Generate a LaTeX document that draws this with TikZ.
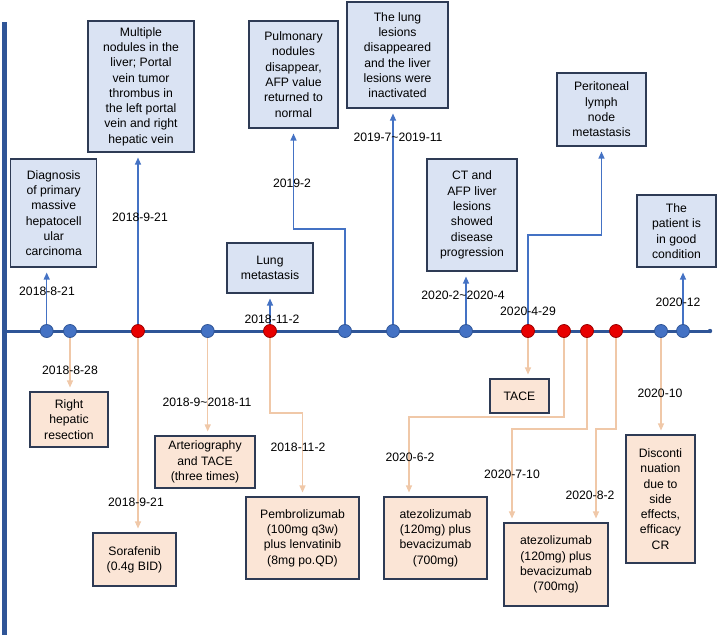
\documentclass[tikz,border=0pt]{standalone}
\usepackage{fontspec}
\setmainfont{Liberation Sans}
\usetikzlibrary{arrows.meta,calc}
\definecolor{topfill}{HTML}{DAE3F3}
\definecolor{botfill}{HTML}{FBE5D6}
\definecolor{boxline}{HTML}{2E3B55}
\definecolor{upline}{HTML}{4472C4}
\definecolor{downline}{HTML}{F0C8A8}
\definecolor{axis}{HTML}{2F5597}
\definecolor{dotblue}{HTML}{4472C4}
\definecolor{dotred}{HTML}{E80000}
\tikzset{
  base/.style={draw=boxline, line width=1.1pt, align=center, inner sep=1pt,
    font=\fontsize{12.2}{15.3}\selectfont},
  topbox/.style={base, fill=topfill},
  botbox/.style={base, fill=botfill},
  upconn/.style={draw=upline, line width=1.2pt, -{Triangle[length=7pt,width=6pt]}, shorten >=5pt},
  downconn/.style={draw=downline, line width=1.1pt, -{Triangle[length=7pt,width=6pt]}, shorten >=4pt},
  date/.style={font=\fontsize{12.2}{14}\selectfont, inner sep=0pt},
  bdot/.style={circle, fill=dotblue, draw=axis, line width=0.8pt, minimum size=13pt, inner sep=0pt},
  rdot/.style={circle, fill=dotred, draw=red!60!black, line width=0.8pt, minimum size=13pt, inner sep=0pt},
}
\begin{document}
\begin{tikzpicture}[x=1pt,y=-1pt]
\useasboundingbox (0,0) rectangle (717,635);
\fill[white] (0,0) rectangle (717,635);
% left bar and axis
\fill[axis] (2,22) rectangle (7,635);
\coordinate (axL) at (7,331);
\coordinate (axR) at (710,331);
\draw[axis, line width=3pt] (axL) -- (axR);
\fill[axis] (axR) circle (2.2pt);

% top boxes
\node[topbox, minimum width=86pt, minimum height=108pt] (t1) at (53.7,213) {Diagnosis\\of primary\\massive\\hepatocell\\ular\\carcinoma};
\node[topbox, minimum width=106pt, minimum height=131pt] (t2) at (141,86.5) {Multiple\\nodules in the\\liver; Portal\\vein tumor\\thrombus in\\the left portal\\vein and right\\hepatic vein};
\node[topbox, minimum width=86pt, minimum height=50pt] (t3) at (270,268) {Lung\\metastasis};
\node[topbox, minimum width=89pt, minimum height=107pt] (t4) at (293.5,74.5) {Pulmonary\\nodules\\disappear,\\AFP value\\returned to\\normal};
\node[topbox, minimum width=101pt, minimum height=106pt] (t5) at (397.5,55) {The lung\\lesions\\disappeared\\and the liver\\lesions were\\inactivated};
\node[topbox, minimum width=90pt, minimum height=112pt] (t6) at (472,215) {CT and\\AFP liver\\lesions\\showed\\disease\\progression};
\node[topbox, minimum width=89pt, minimum height=73pt] (t7) at (601.5,109.5) {Peritoneal\\lymph\\node\\metastasis};
\node[topbox, minimum width=79pt, minimum height=72pt] (t8) at (676.5,231) {The\\patient is\\in good\\condition};

% bottom boxes
\node[botbox, minimum width=78pt, minimum height=55pt] (b1) at (69,419.5) {Right\\hepatic\\resection};
\node[botbox, minimum width=83pt, minimum height=53pt] (b2) at (134.5,559.5) {Sorafenib\\(0.4g BID)};
\node[botbox, minimum width=100pt, minimum height=52pt] (b3) at (205,462) {Arteriography\\and TACE\\(three times)};
\node[botbox, minimum width=113pt, minimum height=82pt] (b4) at (302.5,538) {Pembrolizumab\\(100mg q3w)\\plus lenvatinib\\(8mg po.QD)};
\node[botbox, minimum width=59pt, minimum height=34pt] (b5) at (519.5,396) {TACE};
\node[botbox, minimum width=103pt, minimum height=82pt] (b6) at (435.5,538) {atezolizumab\\(120mg) plus\\bevacizumab\\(700mg)};
\node[botbox, minimum width=104pt, minimum height=83pt] (b7) at (556,564.5) {atezolizumab\\(120mg) plus\\bevacizumab\\(700mg)};
\node[botbox, minimum width=69pt, minimum height=128pt] (b8) at (660.5,499) {Disconti\\nuation\\due to\\side\\effects,\\efficacy\\CR};

% dot positions
\coordinate (p1) at (46.7,331);
\coordinate (p2) at (70,331);
\coordinate (p3) at (138,331);
\coordinate (p4) at (207.7,331);
\coordinate (p5) at (270,331);
\coordinate (p6) at (345,331);
\coordinate (p7) at (393,331);
\coordinate (p8) at (466,331);
\coordinate (p9) at (528,331);
\coordinate (p10) at (564,331);
\coordinate (p11) at (587,331);
\coordinate (p12) at (616,331);
\coordinate (p13) at (661,331);
\coordinate (p14) at (683,331);

% bend points
\coordinate (k4) at (345,229);
\coordinate (k7) at (528,235);
\coordinate (k5) at (270,413);
\coordinate (k10) at (564,417);
\coordinate (k10b) at (409,417);
\coordinate (k11) at (587,429);
\coordinate (k11b) at (512,429);
\coordinate (k12) at (616,429);
\coordinate (k12b) at (596,429);

% upward connectors
\draw[upconn] (p1) -- (p1 |- t1.south);
\draw[upconn] (p3) -- (p3 |- t2.south);
\draw[upconn] (p5) -- (p5 |- t3.south);
\draw[upconn] (p6) -- (k4) -| (t4.south);
\draw[upconn] (p7) -- (p7 |- t5.south);
\draw[upconn] (p8) -- (p8 |- t6.south);
\draw[upconn] (p9) -- (k7) -| (t7.south);
\draw[upconn] (p14) -- (p14 |- t8.south);

% downward connectors
\draw[downconn] (p2) -- (p2 |- b1.north);
\draw[downconn] (p3) -- (p3 |- b2.north);
\draw[downconn] (p4) -- (p4 |- b3.north);
\draw[downconn] (p5) -- (k5) -| (b4.north);
\draw[downconn] (p9) -- (p9 |- b5.north);
\draw[downconn] (p10) -- (k10) -- (k10b) -- (k10b |- b6.north);
\draw[downconn] (p11) -- (k11) -- (k11b) -- (k11b |- b7.north);
\draw[downconn] (p12) -- (k12) -- (k12b) -- (k12b |- b7.north);
\draw[downconn] (p13) -- (p13 |- b8.north);

% dots
\node[bdot] (d1) at (p1) {};
\node[bdot] (d2) at (p2) {};
\node[rdot] (d3) at (p3) {};
\node[bdot] (d4) at (p4) {};
\node[rdot] (d5) at (p5) {};
\node[bdot] (d6) at (p6) {};
\node[bdot] (d7) at (p7) {};
\node[bdot] (d8) at (p8) {};
\node[rdot] (d9) at (p9) {};
\node[rdot] (d10) at (p10) {};
\node[rdot] (d11) at (p11) {};
\node[rdot] (d12) at (p12) {};
\node[bdot] (d13) at (p13) {};
\node[bdot] (d14) at (p14) {};

% date labels
\node[date] (l1) at (47,291) {2018-8-21};
\node[date] (l2) at (140,217) {2018-9-21};
\node[date] (l3) at (272,319) {2018-11-2};
\node[date] (l4) at (292,183) {2019-2};
\node[date] (l5) at (398,137) {2019-7\textasciitilde2019-11};
\node[date] (l6) at (463,295) {2020-2\textasciitilde2020-4};
\node[date] (l7) at (528,311) {2020-4-29};
\node[date] (l8) at (678,302) {2020-12};
\node[date] (l9) at (70,370) {2018-8-28};
\node[date] (l10) at (136,502) {2018-9-21};
\node[date] (l11) at (207,402) {2018-9\textasciitilde2018-11};
\node[date] (l12) at (298,447) {2018-11-2};
\node[date] (l13) at (410,457) {2020-6-2};
\node[date] (l14) at (512,474) {2020-7-10};
\node[date] (l15) at (590,495) {2020-8-2};
\node[date] (l16) at (660,393) {2020-10};
\end{tikzpicture}
\end{document}
